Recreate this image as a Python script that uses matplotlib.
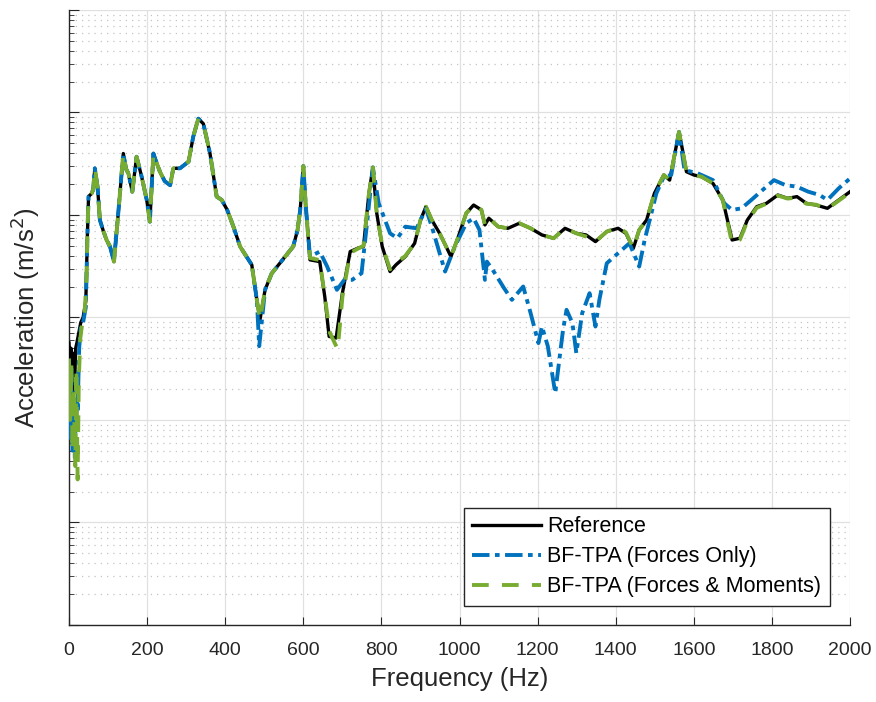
import numpy as np
import matplotlib.pyplot as plt
from matplotlib.ticker import LogLocator, NullFormatter

# values as log10 of acceleration (axis spans 1e-4 .. 1e2)
ref_freq = [0, 3, 5, 8, 11, 14, 17, 20, 25, 30, 36, 43, 47, 50, 58, 62, 66, 70, 73, 79,
            87, 96, 105, 115, 126, 139, 146, 152, 162, 173, 186, 199, 207, 216, 225, 233,
            245, 259, 267, 284, 306, 318, 331, 344, 361, 378, 391, 405, 421, 438, 468, 481,
            489, 502, 519, 540, 574, 585, 592, 600, 606, 617, 642, 655, 666, 684, 700, 720,
            739, 754, 768, 778, 788, 802, 822, 837, 861, 885, 900, 914, 929, 949, 978, 997,
            1017, 1036, 1056, 1065, 1075, 1099, 1124, 1153, 1182, 1211, 1241, 1270, 1299,
            1324, 1348, 1377, 1406, 1426, 1445, 1460, 1479, 1499, 1523, 1538, 1552, 1562,
            1571, 1581, 1600, 1620, 1649, 1674, 1698, 1718, 1737, 1761, 1786, 1815, 1840,
            1864, 1888, 1913, 1942, 1971, 2000]
ref_log = [-1.25, -1.55, -1.3, -1.9, -1.35, -1.7, -1.3, -1.25, -1.15, -1.05, -1.0, -0.84,
           -0.2, 0.18, 0.21, 0.25, 0.455, 0.35, 0.276, -0.049, -0.146, -0.243, -0.308,
           -0.455, 0.016, 0.6, 0.45, 0.406, 0.227, 0.568, 0.373, 0.146, -0.065, 0.6, 0.5,
           0.42, 0.33, 0.29, 0.455, 0.455, 0.52, 0.763, 0.94, 0.89, 0.6, 0.18, 0.146, 0.05,
           -0.114, -0.308, -0.487, -0.83, -1.02, -0.73, -0.57, -0.47, -0.308, -0.15, 0.05,
           0.477, 0.1, -0.438, -0.455, -0.8, -1.185, -1.2, -0.763, -0.357, -0.325, -0.308,
           0.211, 0.464, 0.016, -0.308, -0.552, -0.487, -0.406, -0.276, -0.049, 0.081,
           -0.049, -0.179, -0.406, -0.211, 0.016, 0.097, 0.049, -0.097, -0.032, -0.114,
           -0.13, -0.081, -0.13, -0.195, -0.227, -0.13, -0.179, -0.195, -0.26, -0.162,
           -0.13, -0.179, -0.325, -0.146, -0.049, 0.211, 0.39, 0.34, 0.617, 0.81, 0.633,
           0.422, 0.39, 0.373, 0.308, 0.146, -0.244, -0.227, -0.049, 0.081, 0.114, 0.195,
           0.162, 0.179, 0.114, 0.097, 0.065, 0.146, 0.227]

fo_freq = [0, 3, 6, 9, 12, 15, 18, 22, 26, 30, 36, 43, 47, 50, 58, 62, 66, 70, 73, 79,
           87, 96, 105, 115, 126, 139, 146, 152, 162, 173, 186, 199, 207, 216, 225, 233,
           245, 259, 267, 284, 306, 318, 331, 344, 361, 378, 391, 405, 421, 438, 468, 481,
           487, 502, 519, 540, 574, 585, 592, 600, 606, 617, 642, 661, 686, 705, 725, 749,
           764, 778, 793, 822, 841, 861, 890, 914, 929, 949, 963, 988, 1017, 1036, 1051,
           1065, 1070, 1085, 1114, 1134, 1163, 1182, 1202, 1211, 1226, 1245, 1265, 1274,
           1289, 1299, 1314, 1333, 1348, 1358, 1377, 1406, 1435, 1460, 1474, 1504, 1523,
           1542, 1562, 1576, 1610, 1649, 1678, 1698, 1722, 1747, 1771, 1805, 1834, 1864,
           1893, 1922, 1942, 1971, 2000]
fo_log = [-1.6, -2.2, -1.5, -2.3, -1.8, -2.4, -1.6, -1.9, -1.3, -1.1, -1.05, -0.9,
          -0.2, 0.18, 0.21, 0.25, 0.455, 0.35, 0.276, -0.049, -0.146, -0.243, -0.308,
          -0.455, 0.016, 0.6, 0.45, 0.406, 0.227, 0.568, 0.373, 0.146, -0.065, 0.6, 0.5,
          0.42, 0.33, 0.29, 0.455, 0.455, 0.52, 0.763, 0.94, 0.89, 0.6, 0.18, 0.146, 0.05,
          -0.114, -0.308, -0.487, -0.83, -1.28, -0.73, -0.57, -0.47, -0.308, -0.15, 0.05,
          0.477, 0.1, -0.406, -0.357, -0.503, -0.73, -0.633, -0.633, -0.568, -0.049,
          0.464, 0.114, -0.179, -0.227, -0.114, -0.13, 0.06, -0.114, -0.373, -0.552,
          -0.308, -0.081, -0.032, -0.146, -0.633, -0.455, -0.536, -0.714, -0.828, -0.698,
          -0.958, -1.25, -1.088, -1.28, -1.737, -1.12, -0.925, -1.055, -1.347, -0.958,
          -0.763, -1.088, -0.828, -0.471, -0.373, -0.276, -0.503, -0.244, 0.211, 0.373,
          0.39, 0.81, 0.438, 0.406, 0.34, 0.114, 0.049, 0.065, 0.146, 0.227, 0.34, 0.292,
          0.276, 0.227, 0.195, 0.146, 0.26, 0.357]

fm_freq = [0, 3, 6, 9, 12, 16, 19, 22, 25, 29, 34, 40, 45, 47, 50, 58, 62, 66, 70, 73,
           79, 87, 96, 105, 115, 126, 139, 146, 152, 162, 173, 186, 199, 207, 216, 225,
           233, 245, 259, 267, 284, 306, 318, 331, 344, 361, 378, 391, 405, 421, 438, 468,
           481, 489, 502, 519, 540, 574, 585, 592, 600, 606, 617, 642, 655, 668, 688, 700,
           720, 739, 754, 768, 778, 788, 802, 822, 837, 861, 885, 900, 914, 929, 949, 978,
           997, 1017, 1036, 1056, 1065, 1075, 1099, 1124, 1153, 1182, 1211, 1241, 1270,
           1299, 1324, 1348, 1377, 1406, 1426, 1445, 1460, 1479, 1499, 1523, 1538, 1552,
           1562, 1571, 1581, 1600, 1620, 1649, 1674, 1698, 1718, 1737, 1761, 1786, 1815,
           1840, 1864, 1888, 1913, 1942, 1971, 2000]
fm_log = [-1.4, -2.0, -1.45, -2.3, -1.7, -2.45, -1.5, -2.58, -1.6, -1.2, -1.05, -0.95,
          -0.6, -0.2, 0.18, 0.21, 0.25, 0.455, 0.35, 0.276, -0.049, -0.146, -0.243,
          -0.308, -0.455, 0.016, 0.6, 0.45, 0.406, 0.227, 0.568, 0.373, 0.146, -0.065,
          0.6, 0.5, 0.42, 0.33, 0.29, 0.455, 0.455, 0.52, 0.763, 0.94, 0.89, 0.6, 0.18,
          0.146, 0.05, -0.114, -0.308, -0.487, -0.83, -1.02, -0.73, -0.57, -0.47, -0.308,
          -0.15, 0.05, 0.477, 0.1, -0.42, -0.44, -0.8, -1.15, -1.31, -0.8, -0.37, -0.33,
          -0.3, 0.211, 0.464, 0.016, -0.3, -0.53, -0.47, -0.4, -0.276, -0.049, 0.081,
          -0.049, -0.179, -0.406, -0.211, 0.016, 0.097, 0.049, -0.097, -0.032, -0.114,
          -0.13, -0.081, -0.13, -0.195, -0.227, -0.13, -0.179, -0.21, -0.26, -0.162,
          -0.12, -0.17, -0.325, -0.146, -0.049, 0.211, 0.39, 0.34, 0.617, 0.81, 0.633,
          0.422, 0.39, 0.373, 0.308, 0.146, -0.28, -0.24, -0.06, 0.07, 0.11, 0.19, 0.16,
          0.17, 0.11, 0.1, 0.06, 0.14, 0.22]

plt.rcParams['font.family'] = ['Liberation Sans', 'DejaVu Sans']

fig = plt.figure(figsize=(8.76, 7.02), dpi=100)
ax = fig.add_axes([0.0788, 0.1097, 0.8916, 0.8761])

ax.plot(ref_freq, 10 ** np.array(ref_log), color='black', lw=2.4,
        solid_joinstyle='round', label='Reference', zorder=3)
ax.plot(fo_freq, 10 ** np.array(fo_log), color='#0072BD', lw=2.8,
        dashes=(4.5, 1.4, 1.2, 1.4), dash_joinstyle='round',
        label='BF-TPA (Forces Only)', zorder=4)
ax.plot(fm_freq, 10 ** np.array(fm_log), color='#77AC30', lw=2.8,
        dashes=(4.3, 3.4), dash_joinstyle='round',
        label='BF-TPA (Forces & Moments)', zorder=5)

ax.set_yscale('log')
ax.set_xlim(0, 2000)
ax.set_ylim(1e-4, 1e2)
ax.set_xticks(range(0, 2001, 200))
ax.yaxis.set_major_locator(LogLocator(base=10, numticks=20))
ax.yaxis.set_minor_locator(LogLocator(base=10, subs=np.arange(2, 10), numticks=100))
ax.yaxis.set_major_formatter(NullFormatter())
ax.yaxis.set_minor_formatter(NullFormatter())

ax.tick_params(which='both', direction='in', colors='#262626', labelsize=14)
ax.tick_params(axis='x', which='major', length=6, pad=12, labelcolor='#262626')
ax.tick_params(axis='y', which='major', length=7)
ax.tick_params(axis='y', which='minor', length=3.5)
ax.tick_params(axis='x', which='minor', bottom=False)

ax.grid(True, which='major', color='#e0e0e0', lw=0.9)
ax.grid(True, which='minor', axis='y', color='#c4c4c4', lw=0.9, ls=(0, (1, 4)))
ax.set_axisbelow(True)

for s in ['top', 'right']:
    ax.spines[s].set_visible(False)
for s in ['left', 'bottom']:
    ax.spines[s].set_color('#262626')
    ax.spines[s].set_linewidth(1.0)

ax.set_xlabel('Frequency (Hz)', fontsize=18.5, color='#262626', labelpad=6)
ax.set_ylabel('Acceleration (m/s$^2$)', fontsize=18.5, color='#262626', labelpad=16)

leg = ax.legend(loc='lower right', bbox_to_anchor=(0.9744, 0.0309), borderaxespad=0,
                fontsize=15.5, handlelength=3.2, handletextpad=0.3, labelspacing=0.42,
                borderpad=0.4, fancybox=False, framealpha=1, edgecolor='#262626')
leg.get_frame().set_linewidth(1.0)

fig.savefig('out.png', dpi=100)
